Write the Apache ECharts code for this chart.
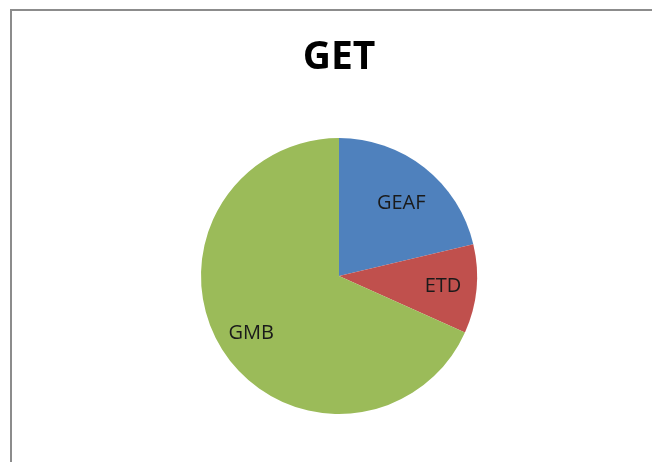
<!DOCTYPE html>
<html>
<head>
<meta charset="utf-8">
<script src="https://cdn.jsdelivr.net/npm/echarts@6/dist/echarts.min.js"></script>
<style>html,body{margin:0;padding:0;background:#fff}#c{width:652px;height:462px}</style>
</head>
<body>
<div id="c"></div>
<script>
const titleText = 'GET';
const categories = ['GEAF', 'ETD', 'GMB'];
const values = [21.3, 10.4, 68.3];
const colors = ['#4F81BD', '#C0504D', '#9BBB59'];

const chart = echarts.init(document.getElementById('c'), null, {renderer: 'canvas'});
const data = categories.map((n, i) => ({name: n, value: values[i], itemStyle: {color: colors[i]}}));
const labelOffsets = [[-2, 8], [1, 1], [-1, 1]];
const R = 138;
chart.setOption({
  animation: false,
  title: {
    text: titleText, left: 334, top: 33, textAlign: 'center',
    textStyle: {fontFamily: 'Open Sans', fontWeight: 'bold', fontSize: 39, color: '#000'}
  },
  graphic: [{
    type: 'rect', shape: {x: 11, y: 10, width: 700, height: 500},
    style: {fill: 'none', stroke: '#8c8c8c', lineWidth: 2}, silent: true
  }],
  series: [
    {
      type: 'pie', center: [339, 276], radius: [0, R], startAngle: 90, clockwise: true,
      label: {show: false}, labelLine: {show: false}, silent: true,
      itemStyle: {borderWidth: 0},
      data: data
    },
    {
      type: 'pie', center: [339, 276], radius: [Math.round(R * 0.46), R], startAngle: 90, clockwise: true,
      silent: true,
      itemStyle: {color: 'rgba(0,0,0,0)', borderWidth: 0},
      label: {show: true, position: 'inside', formatter: '{b}', fontFamily: 'Open Sans', fontSize: 20, color: '#1a1a1a'},
      labelLine: {show: false},
      data: categories.map((n, i) => ({name: n, value: values[i], label: {offset: labelOffsets[i]}}))
    }
  ]
});
</script>
</body>
</html>
